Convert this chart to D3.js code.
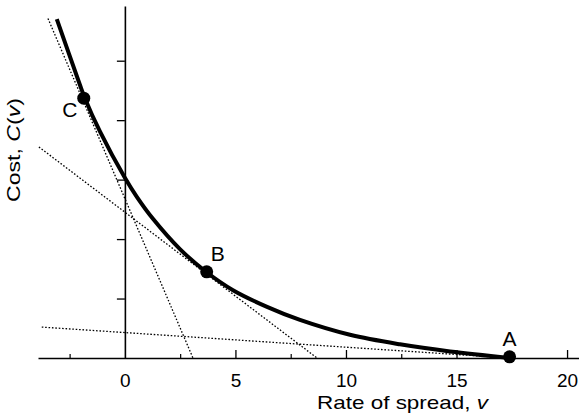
<!DOCTYPE html>
<html>
<head>
<meta charset="utf-8">
<script src="https://cdn.jsdelivr.net/npm/d3@7"></script>
<style>
  html, body { margin: 0; padding: 0; background: #fff; }
  svg { display: block; }
  text { font-family: "Liberation Sans", Arial, Helvetica, sans-serif; fill: #000; }
</style>
</head>
<body>
<svg id="chart" width="579" height="419"></svg>
<script>
// ---- Data ----
const curveV = [-3.08, -2.04, -1.81, -1.13, 0, 0.54, 1.27, 2.49, 3.67, 4.89, 6.43, 7.92, 10.18, 12.44, 14.71, 17.47];
const curveC = [5.70, 4.60, 4.37, 3.81, 3.03, 2.71, 2.34, 1.83, 1.45, 1.14, 0.86, 0.64, 0.39, 0.23, 0.11, 0.0];

const pointNames = ["C", "B", "A"];
const pointV = [-1.86, 3.70, 17.40];
const pointC = [4.37, 1.45, 0.02];

// tangent lines: start (v, C) and end (v, C)
const tangentStartV = [-3.48, -3.89, -3.76];
const tangentStartC = [5.71, 3.55, 0.52];
const tangentEndV = [3.08, 8.69, 17.40];
const tangentEndC = [0, 0, 0];

const xMajorTicks = [0, 5, 10, 15, 20];
const xMinorTicks = [-2.5, 2.5, 7.5, 12.5, 17.5];
const yTicks = [1, 2, 3, 4, 5];

const xTitle = "Rate of spread, ";
const xTitleVar = "v";
const yTitleA = "Cost, ";
const yTitleB = "C";
const yTitleC = "(";
const yTitleD = "v";
const yTitleE = ")";

// ---- Drawing ----
const svg = d3.select("#chart");
const x = d3.scaleLinear().domain([-3.93, 20.54]).range([38, 579]);
const y = d3.scaleLinear().domain([0, 5.92]).range([358, 6]);

// tangent lines (dotted)
const tangents = tangentStartV.map((v, i) => ({x1: v, y1: tangentStartC[i], x2: tangentEndV[i], y2: tangentEndC[i]}));
svg.append("g").selectAll("line").data(tangents).join("line")
  .attr("x1", d => x(d.x1)).attr("y1", d => y(d.y1))
  .attr("x2", d => x(d.x2)).attr("y2", d => y(d.y2))
  .attr("stroke", "#000").attr("stroke-width", 1.3)
  .attr("stroke-dasharray", "1.6,1.8");

// x axis: major ticks (inward/up)
const xAxis = d3.axisBottom(x).tickValues(xMajorTicks).tickSizeInner(-8).tickSizeOuter(0).tickPadding(16)
  .tickFormat(d3.format("d"));
const gx = svg.append("g").attr("transform", `translate(0,${y(0)})`).call(xAxis);
gx.select(".domain").attr("stroke-width", 1.6);
gx.selectAll(".tick line").attr("stroke-width", 1.3);
gx.selectAll(".tick text").attr("font-size", 19).attr("font-family", '"Liberation Sans", Arial, sans-serif');
gx.selectAll(".tick").filter(d => d === 0).select("line").remove();

// minor ticks
const xMinor = d3.axisBottom(x).tickValues(xMinorTicks).tickSizeInner(-4).tickSizeOuter(0).tickFormat("");
const gxm = svg.append("g").attr("transform", `translate(0,${y(0)})`).call(xMinor);
gxm.select(".domain").remove();
gxm.selectAll(".tick line").attr("stroke-width", 1.2);

// y axis
const yAxis = d3.axisLeft(y).tickValues(yTicks).tickSizeInner(8).tickSizeOuter(0).tickFormat("");
const gy = svg.append("g").attr("transform", `translate(${x(0)},0)`).call(yAxis);
gy.select(".domain").attr("stroke-width", 1.6);
gy.selectAll(".tick line").attr("stroke-width", 1.3);

// cost curve
const pts = curveV.map((v, i) => [v, curveC[i]]);
svg.append("path")
  .attr("d", d3.line().x(d => x(d[0])).y(d => y(d[1])).curve(d3.curveCatmullRom.alpha(0.5))(pts))
  .attr("fill", "none").attr("stroke", "#000").attr("stroke-width", 4).attr("stroke-linecap", "butt");

// points
const points = pointNames.map((n, i) => ({n, v: pointV[i], c: pointC[i]}));
svg.append("g").selectAll("circle").data(points).join("circle")
  .attr("cx", d => x(d.v)).attr("cy", d => y(d.c)).attr("r", 6.5).attr("fill", "#000");

// point labels
const labelOffsets = {C: [-14, 19], B: [11, -11], A: [0, -11]};
svg.append("g").selectAll("text").data(points).join("text")
  .attr("x", d => x(d.v) + labelOffsets[d.n][0])
  .attr("y", d => y(d.c) + labelOffsets[d.n][1])
  .attr("text-anchor", "middle").attr("font-size", 21)
  .text(d => d.n);

// x title
const xt = svg.append("text").attr("x", 317).attr("y", 409).attr("font-size", 19)
  .attr("textLength", 171).attr("lengthAdjust", "spacingAndGlyphs");
xt.append("tspan").text(xTitle);
xt.append("tspan").attr("font-style", "italic").text(xTitleVar);

// y title
const yt = svg.append("text").attr("transform", "translate(20,202) rotate(-90)").attr("font-size", 19)
  .attr("textLength", 104).attr("lengthAdjust", "spacingAndGlyphs");
yt.append("tspan").text(yTitleA);
yt.append("tspan").attr("font-style", "italic").text(yTitleB);
yt.append("tspan").text(yTitleC);
yt.append("tspan").attr("font-style", "italic").text(yTitleD);
yt.append("tspan").text(yTitleE);
</script>
</body>
</html>
